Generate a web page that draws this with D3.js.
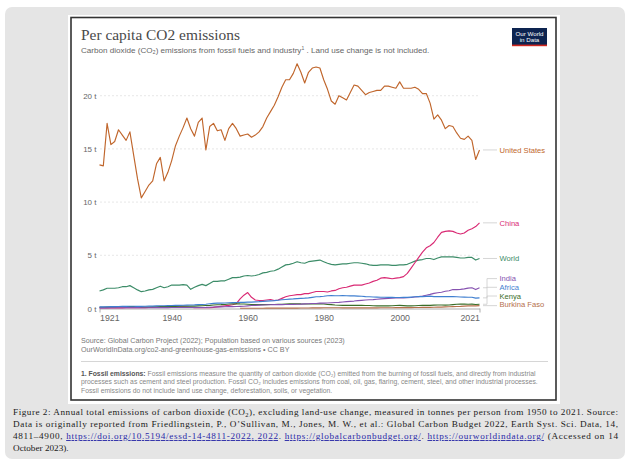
<!DOCTYPE html>
<html lang="en">

<head>
  <meta charset="UTF-8">
  <title>Per capita CO2 emissions</title>
  <script src="https://d3js.org/d3.v7.min.js"></script>
  <style>
    body {
      margin: 0;
      background: white;
    }

    svg {
      display: block;
    }

    .sans {
      font-family: "Liberation Sans", Arial, sans-serif;
    }

    .caption {
      font-family: "Liberation Serif", "Times New Roman", serif;
      font-size: 9.2px;
      fill: #1a1a1a;
    }

    .link {
      fill: #2a2aa8;
      text-decoration: underline;
    }
  </style>
</head>

<body>
  <div id="chart"></div>

  <script>
    const firstYear = 1921
    const yTicks = [0, 5, 10, 15, 20]
    const xTicks = [1921, 1940, 1960, 1980, 2000, 2021]

    // tonnes per person, 1921..2021
    const unitedStates = [
      13.5, 13.4, 17.4, 15.4, 15.7, 16.8, 16.3, 15.8, 16.6, 14.4,
      12.2, 10.4, 11.0, 11.6, 12.0, 13.6, 14.2, 12.0, 12.8, 13.9,
      15.3, 16.2, 17.0, 17.9, 16.9, 16.2, 17.5, 17.9, 14.9, 17.1,
      17.4, 16.7, 16.8, 15.8, 16.9, 17.4, 16.9, 16.2, 16.3, 16.4,
      16.1, 16.3, 16.6, 17.1, 17.9, 18.5, 19.1, 19.9, 20.8, 21.5,
      21.5, 22.1, 23.0, 22.2, 21.2, 22.2, 22.6, 22.7, 22.6, 21.5,
      20.6, 19.5, 19.2, 20.0, 19.8, 19.6, 20.3, 21.0, 20.9, 20.5,
      20.1, 20.3, 20.4, 20.5, 20.5, 20.9, 20.9, 20.8, 20.7, 21.3,
      20.7, 20.7, 20.7, 20.8, 20.6, 20.2, 20.2, 19.3, 17.8, 18.2,
      17.7, 16.9, 17.2, 17.1, 16.5, 16.0, 15.9, 16.2, 15.8, 14.0,
      14.9
    ]
    const china = [
      0.05, 0.05, 0.05, 0.06, 0.06, 0.06, 0.06, 0.07, 0.07, 0.07,
      0.07, 0.08, 0.08, 0.09, 0.09, 0.1, 0.1, 0.1, 0.11, 0.12,
      0.14, 0.15, 0.15, 0.14, 0.12, 0.08, 0.08, 0.08, 0.07, 0.08,
      0.1, 0.15, 0.2, 0.25, 0.3, 0.35, 0.45, 0.9, 1.25, 1.5,
      1.05, 0.8, 0.75, 0.75, 0.8, 0.85, 0.75, 0.8, 0.95, 1.1,
      1.2, 1.25, 1.3, 1.3, 1.4, 1.4, 1.5, 1.6, 1.6, 1.6,
      1.55, 1.65, 1.7, 1.85, 1.95, 2.0, 2.1, 2.2, 2.2, 2.2,
      2.3, 2.4, 2.55, 2.65, 2.85, 2.9, 2.85, 2.8, 2.85, 2.9,
      3.0, 3.3, 3.8, 4.3, 4.8, 5.3, 5.7, 5.9, 6.2, 6.7,
      7.15, 7.25, 7.3, 7.25, 7.1, 7.0, 7.1, 7.35, 7.5, 7.7,
      8.05
    ]
    const world = [
      1.64, 1.75, 1.9, 1.9, 1.9, 1.95, 2.05, 2.05, 2.15, 1.95,
      1.75, 1.58, 1.65, 1.75, 1.8, 1.95, 2.1, 1.95, 2.05, 2.2,
      2.2, 2.2, 2.25, 2.2, 1.8, 2.0, 2.15, 2.27, 2.15, 2.35,
      2.55, 2.55, 2.6, 2.6, 2.75, 2.9, 2.9, 2.95, 3.05, 3.1,
      3.05, 3.1, 3.2, 3.35, 3.4, 3.5, 3.55, 3.7, 3.9, 4.1,
      4.15, 4.25, 4.4, 4.3, 4.25, 4.4, 4.45, 4.5, 4.55, 4.4,
      4.25, 4.15, 4.1, 4.15, 4.2, 4.2, 4.25, 4.3, 4.3, 4.25,
      4.2, 4.1, 4.05, 4.05, 4.1, 4.1, 4.1, 4.05, 4.05, 4.1,
      4.1, 4.15, 4.3, 4.45, 4.55, 4.6, 4.7, 4.7, 4.6, 4.75,
      4.85, 4.85, 4.85, 4.85, 4.8, 4.75, 4.75, 4.8, 4.8, 4.55,
      4.7
    ]
    const india = [
      0.06, 0.06, 0.06, 0.07, 0.07, 0.07, 0.07, 0.08, 0.08, 0.08,
      0.08, 0.07, 0.07, 0.07, 0.07, 0.08, 0.08, 0.08, 0.08, 0.09,
      0.09, 0.09, 0.09, 0.09, 0.09, 0.09, 0.09, 0.09, 0.1, 0.12,
      0.14, 0.15, 0.15, 0.16, 0.17, 0.18, 0.19, 0.2, 0.21, 0.25,
      0.28, 0.3, 0.32, 0.33, 0.35, 0.35, 0.36, 0.36, 0.37, 0.38,
      0.38, 0.39, 0.4, 0.41, 0.43, 0.45, 0.47, 0.47, 0.5, 0.5,
      0.52, 0.54, 0.56, 0.58, 0.61, 0.64, 0.67, 0.7, 0.74, 0.77,
      0.8, 0.82, 0.84, 0.87, 0.9, 0.93, 0.95, 0.97, 1.0, 1.0,
      1.0, 1.01, 1.03, 1.08, 1.12, 1.17, 1.25, 1.33, 1.42, 1.48,
      1.53, 1.62, 1.67, 1.78, 1.78, 1.8, 1.84, 1.92, 1.95, 1.78,
      1.95
    ]
    const africa = [
      0.15, 0.15, 0.16, 0.17, 0.18, 0.19, 0.2, 0.2, 0.21, 0.21,
      0.2, 0.2, 0.21, 0.22, 0.23, 0.25, 0.26, 0.26, 0.27, 0.28,
      0.29, 0.3, 0.31, 0.32, 0.33, 0.34, 0.36, 0.38, 0.4, 0.45,
      0.48, 0.5, 0.5, 0.52, 0.54, 0.55, 0.56, 0.57, 0.58, 0.6,
      0.6, 0.62, 0.64, 0.67, 0.7, 0.72, 0.74, 0.78, 0.82, 0.85,
      0.88, 0.9, 0.93, 0.95, 0.97, 1.0, 1.05, 1.1, 1.12, 1.15,
      1.2, 1.22, 1.2, 1.2, 1.22, 1.2, 1.18, 1.18, 1.17, 1.15,
      1.12, 1.1, 1.08, 1.07, 1.06, 1.06, 1.05, 1.04, 1.03, 1.03,
      1.04, 1.04, 1.07, 1.1, 1.12, 1.12, 1.14, 1.16, 1.12, 1.13,
      1.12, 1.12, 1.12, 1.12, 1.1, 1.08, 1.07, 1.06, 1.06, 0.97,
      1.0
    ]
    const kenya = [
      0.12, 0.12, 0.13, 0.14, 0.15, 0.16, 0.17, 0.17, 0.18, 0.18,
      0.15, 0.13, 0.13, 0.14, 0.15, 0.16, 0.17, 0.18, 0.18, 0.19,
      0.2, 0.22, 0.22, 0.23, 0.22, 0.22, 0.24, 0.26, 0.28, 0.3,
      0.33, 0.35, 0.36, 0.38, 0.42, 0.44, 0.45, 0.43, 0.42, 0.4,
      0.38, 0.37, 0.36, 0.36, 0.37, 0.38, 0.38, 0.39, 0.4, 0.42,
      0.43, 0.44, 0.45, 0.43, 0.42, 0.42, 0.44, 0.45, 0.44, 0.42,
      0.38, 0.36, 0.33, 0.31, 0.3, 0.3, 0.3, 0.3, 0.3, 0.29,
      0.28, 0.28, 0.26, 0.25, 0.24, 0.24, 0.24, 0.26, 0.28, 0.29,
      0.27, 0.25, 0.24, 0.26, 0.28, 0.29, 0.29, 0.29, 0.32, 0.33,
      0.33, 0.32, 0.33, 0.37, 0.4, 0.41, 0.42, 0.4, 0.41, 0.38,
      0.4
    ]
    // starts in 1958
    const burkinaStart = 1958
    const burkinaFaso = [
      0.02, 0.02, 0.02,
      0.02, 0.02, 0.02, 0.02, 0.03, 0.03, 0.03, 0.03, 0.03, 0.03,
      0.04, 0.04, 0.04, 0.05, 0.05, 0.05, 0.06, 0.06, 0.06, 0.07,
      0.07, 0.07, 0.07, 0.07, 0.06, 0.06, 0.06, 0.06, 0.06, 0.06,
      0.06, 0.06, 0.06, 0.06, 0.07, 0.07, 0.07, 0.07, 0.08, 0.08,
      0.08, 0.08, 0.08, 0.09, 0.09, 0.1, 0.11, 0.11, 0.12, 0.13,
      0.13, 0.15, 0.16, 0.18, 0.19, 0.2, 0.22, 0.24, 0.26, 0.25,
      0.27
    ]

    const series = [
      { name: 'United States', color: '#c0662c', start: firstYear, values: unitedStates },
      { name: 'China', color: '#d92a74', start: firstYear, values: china },
      { name: 'World', color: '#3c8c68', start: firstYear, values: world },
      { name: 'Africa', color: '#3f7fd0', start: firstYear, values: africa },
      { name: 'India', color: '#8652b0', start: firstYear, values: india },
      { name: 'Kenya', color: '#3a6e28', start: firstYear, values: kenya },
      { name: 'Burkina Faso', color: '#b5704c', start: burkinaStart, values: burkinaFaso }
    ]
    const labelOrder = ['United States', 'China', 'World', 'India', 'Africa', 'Kenya', 'Burkina Faso']

    const width = 632
    const height = 466

    const svg = d3.select('#chart')
      .append('svg')
      .attr('width', width)
      .attr('height', height)

    // scale a text's font so it spans the width measured on the reference
    const fit = (sel, target) => {
      const size = parseFloat(sel.attr('font-size'))
      const w = sel.node().getComputedTextLength()
      if (w > 0) sel.attr('font-size', size * target / w)
      return parseFloat(sel.attr('font-size'))
    }

    // page frame
    svg.append('rect')
      .attr('x', 5).attr('y', 7)
      .attr('width', 620).attr('height', 452)
      .attr('rx', 7)
      .attr('fill', '#e5e5e5')

    svg.append('rect')
      .attr('x', 68).attr('y', 15)
      .attr('width', 492).attr('height', 389)
      .attr('fill', 'white')

    svg.append('rect')
      .attr('x', 71).attr('y', 17.5)
      .attr('width', 485).attr('height', 382.5)
      .attr('fill', 'white')
      .attr('stroke', '#333')
      .attr('stroke-width', 1.6)

    // header
    const title = svg.append('text')
      .attr('x', 81).attr('y', 40)
      .attr('font-family', '"Liberation Serif", "Times New Roman", serif')
      .attr('font-size', 14.6)
      .attr('fill', '#4a4a4a')
      .text('Per capita CO2 emissions')
    fit(title, 159)

    const sub = svg.append('text')
      .attr('class', 'sans')
      .attr('x', 81).attr('y', 52.5)
      .attr('font-size', 8)
      .attr('fill', '#666')
    sub.append('tspan').text('Carbon dioxide (CO₂) emissions from fossil fuels and industry')
    sub.append('tspan').attr('font-size', 5).attr('dy', -2.8).text('1')
    sub.append('tspan').attr('dy', 2.8).text(' . Land use change is not included.')
    fit(sub, 349)

    // logo
    const logo = svg.append('g')
    logo.append('rect')
      .attr('x', 512).attr('y', 28)
      .attr('width', 35).attr('height', 18)
      .attr('fill', '#0d2450')
    logo.append('rect')
      .attr('x', 512).attr('y', 44.6)
      .attr('width', 35).attr('height', 1.6)
      .attr('fill', '#d0271e')
    logo.selectAll('text.logo')
      .data(['Our World', 'in Data'])
      .enter()
      .append('text')
      .attr('class', 'sans')
      .attr('x', 529.5)
      .attr('y', (_, i) => 35.5 + i * 6.4)
      .attr('text-anchor', 'middle')
      .attr('font-size', 6.2)
      .attr('fill', 'white')
      .text(d => d)

    // scales
    const x = d3.scaleLinear().domain([1921, 2021]).range([99.5, 479.5])
    const y = d3.scaleLinear().domain([0, 20]).range([308.5, 95.7])

    const yAxis = svg.append('g')
      .attr('class', 'sans')
      .call(d3.axisLeft(y).tickValues(yTicks).tickSize(0).tickFormat(d => `${d} t`))
    yAxis.select('.domain').remove()
    yAxis.selectAll('text')
      .attr('x', 96.5)
      .attr('dy', '0.33em')
      .attr('font-size', 8)
      .attr('fill', '#666')
      .attr('font-family', '"Liberation Sans", Arial, sans-serif')

    svg.append('g')
      .selectAll('line')
      .data(yTicks.filter(d => d > 0))
      .enter()
      .append('line')
      .attr('x1', 100).attr('x2', 480)
      .attr('y1', d => y(d)).attr('y2', d => y(d))
      .attr('stroke', '#ddd')
      .attr('stroke-width', 0.7)
      .attr('stroke-dasharray', '2,2')

    const xAxis = svg.append('g')
      .attr('transform', `translate(0,${y(0)})`)
      .call(d3.axisBottom(x).tickValues(xTicks).tickSize(0).tickFormat(d3.format('d')))
    xAxis.select('.domain')
      .attr('stroke', '#999')
      .attr('stroke-width', 0.8)
    xAxis.selectAll('text')
      .attr('y', 12.5)
      .attr('dy', 0)
      .attr('font-size', 8.8)
      .attr('fill', '#666')
      .attr('font-family', '"Liberation Sans", Arial, sans-serif')
      .attr('text-anchor', d => d === 1921 ? 'start' : d === 2021 ? 'end' : 'middle')
    xAxis.selectAll('.tick')
      .filter(d => d === 1921 || d === 2021)
      .append('line')
      .attr('y2', 4)
      .attr('stroke', '#999')
      .attr('stroke-width', 0.8)

    // lines
    const line = d3.line()
      .x(d => x(d.year))
      .y(d => y(d.value))

    const drawOrder = ['United States', 'World', 'China', 'Burkina Faso', 'Kenya', 'India', 'Africa']
    drawOrder.forEach(name => {
      const s = series.find(d => d.name === name)
      const points = s.values.map((v, i) => ({ year: s.start + i, value: v }))
      svg.append('path')
        .datum(points)
        .attr('d', line)
        .attr('fill', 'none')
        .attr('stroke', s.color)
        .attr('stroke-width', 1.15)
        .attr('stroke-linejoin', 'round')
    })

    // end labels, pushed apart from the bottom up
    const labels = labelOrder.map(name => {
      const s = series.find(d => d.name === name)
      const last = s.values[s.values.length - 1]
      return { name, color: s.color, yData: y(last), yLabel: y(last) }
    })
    const gap = 8.7
    let limit = y(0) - 3.8
    for (let i = labels.length - 1; i >= 0; i--) {
      labels[i].yLabel = Math.min(labels[i].yData, limit)
      limit = labels[i].yLabel - gap
    }

    svg.append('g')
      .selectAll('path')
      .data(labels)
      .enter()
      .append('path')
      .attr('d', d => Math.abs(d.yData - d.yLabel) < 1
        ? `M483,${d.yData}H497`
        : `M483,${d.yData}H487V${d.yLabel}H497`)
      .attr('fill', 'none')
      .attr('stroke', '#ccc')
      .attr('stroke-width', 0.8)

    svg.append('g')
      .selectAll('text')
      .data(labels)
      .enter()
      .append('text')
      .attr('class', 'sans')
      .attr('x', 499.5)
      .attr('y', d => d.yLabel)
      .attr('dy', '0.35em')
      .attr('font-size', 7.6)
      .attr('fill', d => d.color)
      .text(d => d.name)

    // sources and notes
    const s1 = svg.append('text').attr('class', 'sans')
      .attr('x', 81).attr('y', 342.5)
      .attr('font-size', 7).attr('fill', '#777')
      .text('Source: Global Carbon Project (2022); Population based on various sources (2023)')
    const sourceSize = fit(s1, 264)
    svg.append('text').attr('class', 'sans')
      .attr('x', 81).attr('y', 351.6)
      .attr('font-size', sourceSize).attr('fill', '#777')
      .text('OurWorldInData.org/co2-and-greenhouse-gas-emissions • CC BY')

    svg.append('line')
      .attr('x1', 81).attr('x2', 548)
      .attr('y1', 361.5).attr('y2', 361.5)
      .attr('stroke', '#ccc')
      .attr('stroke-width', 0.8)

    const n2 = svg.append('text').attr('class', 'sans')
      .attr('x', 81).attr('y', 384)
      .attr('font-size', 6.4).attr('fill', '#888')
      .text('processes such as cement and steel production. Fossil CO₂ includes emissions from coal, oil, gas, flaring, cement, steel, and other industrial processes.')
    const noteSize = fit(n2, 457)

    const n1 = svg.append('text').attr('class', 'sans')
      .attr('x', 81).attr('y', 375.5)
      .attr('font-size', noteSize).attr('fill', '#888')
    n1.append('tspan').attr('font-weight', 'bold').attr('fill', '#555').text('1. Fossil emissions:')
    n1.append('tspan').text(' Fossil emissions measure the quantity of carbon dioxide (CO₂) emitted from the burning of fossil fuels, and directly from industrial')

    svg.append('text').attr('class', 'sans')
      .attr('x', 81).attr('y', 392.5)
      .attr('font-size', noteSize).attr('fill', '#888')
      .text('Fossil emissions do not include land use change, deforestation, soils, or vegetation.')

    // figure caption
    const capX = 13
    const capW = 605
    const cap = svg.append('g').attr('class', 'caption')

    const c1 = cap.append('text').attr('x', capX).attr('y', 415)
      .attr('textLength', capW).attr('lengthAdjust', 'spacing')
    c1.append('tspan').text('Figure 2: Annual total emissions of carbon dioxide (CO')
    c1.append('tspan').attr('font-size', 6.5).attr('dy', 2).text('2')
    c1.append('tspan').attr('dy', -2).text('), excluding land-use change, measured in tonnes per person from 1950 to 2021. Source:')

    cap.append('text').attr('x', capX).attr('y', 427)
      .attr('textLength', capW).attr('lengthAdjust', 'spacing')
      .text('Data is originally reported from Friedlingstein, P., O’Sullivan, M., Jones, M. W., et al.: Global Carbon Budget 2022, Earth Syst. Sci. Data, 14,')

    const c3 = cap.append('text').attr('x', capX).attr('y', 439)
      .attr('textLength', capW).attr('lengthAdjust', 'spacing')
    c3.append('tspan').text('4811–4900, ')
    c3.append('tspan').attr('class', 'link').text('https://doi.org/10.5194/essd-14-4811-2022, 2022')
    c3.append('tspan').text('. ')
    c3.append('tspan').attr('class', 'link').text('https://globalcarbonbudget.org/')
    c3.append('tspan').text('. ')
    c3.append('tspan').attr('class', 'link').text('https://ourworldindata.org/')
    c3.append('tspan').text(' (Accessed on 14')

    cap.append('text').attr('x', capX).attr('y', 451)
      .text('October 2023).')
  </script>
</body>

</html>
